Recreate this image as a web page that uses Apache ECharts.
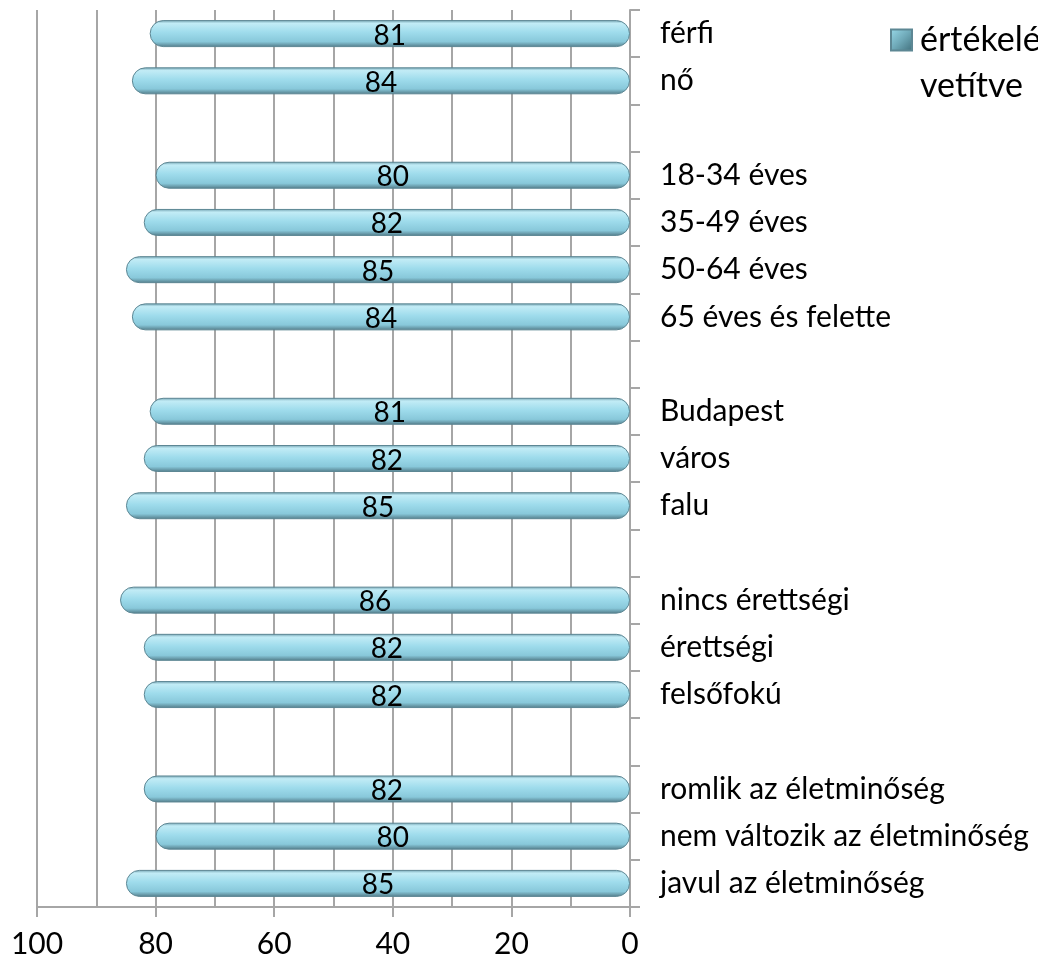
<!DOCTYPE html>
<html>
<head>
<meta charset="utf-8">
<script src="https://cdn.jsdelivr.net/npm/echarts@6/dist/echarts.min.js"></script>
<style>
  html, body { margin: 0; padding: 0; background: #fff; }
  #chart { width: 1038px; height: 974px; }
</style>
</head>
<body>
<div id="chart"></div>
<script>
// kategóriák (üres sorok = csoportok közötti rések)
var categories = ['férfi', 'nő', ' ', '18-34 éves', '35-49 éves', '50-64 éves', '65 éves és felette', '  ',
  'Budapest', 'város', 'falu', '   ', 'nincs érettségi', 'érettségi', 'felsőfokú', '    ',
  'romlik az életminőség', 'nem változik az életminőség', 'javul az életminőség'];
var values = [81, 84, null, 80, 82, 85, 84, null, 81, 82, 85, null, 86, 82, 82, null, 82, 80, 85];
var tickLabels = [0, 20, 40, 60, 80, 100];
var seriesName = 'értékelés vetítve';

var font = 'Lato';
var grey = '#a6a6a6';

var chart = echarts.init(document.getElementById('chart'));

// henger kinézet
var barColor = new echarts.graphic.LinearGradient(0, 0, 0, 1, [
  { offset: 0, color: '#6f9fae' },
  { offset: 0.12, color: '#c2ecf6' },
  { offset: 0.45, color: '#9fdcec' },
  { offset: 0.8, color: '#88c8da' },
  { offset: 1, color: '#527a87' }
]);

chart.setOption({
  animation: false,
  backgroundColor: '#fff',
  grid: { left: 37, right: 408, top: 10, bottom: 67, containLabel: false },
  legend: {
    left: 885, top: -34,
    itemWidth: 21, itemHeight: 21,
    itemGap: 0,
    icon: 'rect',
    data: [{
      name: seriesName,
      itemStyle: {
        color: new echarts.graphic.LinearGradient(0, 0, 1, 1, [
          { offset: 0, color: '#9adbeb' },
          { offset: 0.5, color: '#6fa9b8' },
          { offset: 1, color: '#3f6e7a' }
        ])
      }
    }],
    // üres első sor, hogy a jel az első szövegsorhoz igazodjon
    formatter: function () { return '\nértékelés\nvetítve'; },
    textStyle: { fontFamily: font, fontSize: 34, color: '#000', lineHeight: 46, padding: [0, 0, 0, 3] }
  },
  xAxis: [
    {
      // feliratok és jelölők 20-asával
      type: 'value', min: 0, max: 100, interval: 20, inverse: true,
      axisLine: { show: true, lineStyle: { color: grey, width: 2 } },
      axisTick: { show: true, length: 10, lineStyle: { color: grey, width: 2 } },
      axisLabel: {
        margin: 22,
        fontFamily: font, fontSize: 30, color: '#000',
        formatter: function (v) { return tickLabels.indexOf(v) >= 0 ? String(v) : ''; }
      },
      splitLine: { show: false }
    },
    {
      // rácsvonalak 10-esével
      type: 'value', min: 0, max: 100, interval: 10, inverse: true, position: 'bottom',
      axisLine: { show: false }, axisTick: { show: false }, axisLabel: { show: false },
      splitLine: { show: true, lineStyle: { color: grey, width: 2 } }
    }
  ],
  yAxis: {
    type: 'category', position: 'right', inverse: true,
    data: categories,
    axisLine: { show: true, lineStyle: { color: grey, width: 2 } },
    axisTick: { show: true, length: 10, lineStyle: { color: grey, width: 2 } },
    axisLabel: { margin: 30, fontFamily: font, fontSize: 30, color: '#000' }
  },
  series: [{
    name: seriesName,
    type: 'bar',
    xAxisIndex: 0,
    barWidth: 27,
    data: values,
    itemStyle: {
      color: barColor,
      borderRadius: 13,
      borderColor: '#5d8794',
      borderWidth: 1
    },
    label: {
      show: true, position: 'inside', offset: [0, 2],
      fontFamily: font, fontSize: 28, color: '#000'
    }
  }]
});
</script>
</body>
</html>
